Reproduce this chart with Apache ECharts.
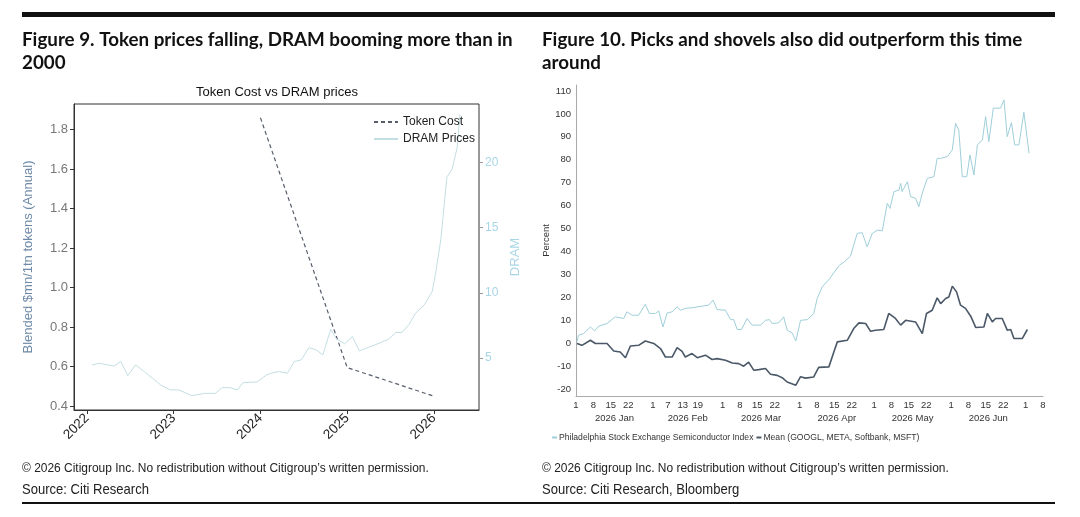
<!DOCTYPE html>
<html>
<head>
<meta charset="utf-8">
<script src="https://cdn.jsdelivr.net/npm/echarts@6/dist/echarts.min.js"></script>
<style>
html,body{margin:0;padding:0;background:#fff;}
#chart{width:1080px;height:517px;}
</style>
</head>
<body>
<div id="chart"></div>
<script>
// ---------- Figure 9 data ----------
const yearTicks = [2022, 2023, 2024, 2025, 2026];
const tokenYears = [2024.0, 2025.0, 2026.0];
const tokenValues = [1.86, 0.595, 0.45];
const dramYears = [2022.06,2022.14,2022.31,2022.39,2022.47,2022.56,2022.66,2022.75,2022.85,2022.96,
  2023.06,2023.21,2023.36,2023.48,2023.56,2023.65,2023.73,2023.80,2023.96,
  2024.07,2024.14,2024.22,2024.31,2024.39,2024.47,2024.56,2024.64,2024.72,2024.81,2024.87,2024.97,
  2025.06,2025.14,2025.25,2025.37,2025.48,2025.56,2025.63,2025.71,2025.79,2025.89,2025.98,
  2026.02,2026.08,2026.15,2026.21,2026.27,2026.30];
const dramValues = [4.46,4.59,4.38,4.72,3.64,4.46,3.95,3.46,2.92,2.54,
  2.54,2.10,2.28,2.28,2.72,2.72,2.54,3.10,3.15,
  3.69,3.85,3.95,3.82,4.72,4.85,5.79,5.62,5.23,7.20,6.51,6.08,
  6.64,5.54,5.82,6.13,6.44,6.95,6.95,7.54,8.44,9.08,10.1,
  11.5,14.1,18.9,19.5,21.2,23.7];
const leftTicks = [0.4, 0.6, 0.8, 1.0, 1.2, 1.4, 1.6, 1.8];
const dramTicks = [5, 10, 15, 20];

// ---------- Figure 10 data (x = days since 1 Jan 2026) ----------
const dayTicks = [0,7,14,21, 31,37,43,49, 59,66,73,80, 90,97,104,111, 120,127,134,141, 151,158,165,172, 181,188];
const dayTickLabels = ['1','8','15','22','1','7','13','19','1','8','15','22','1','8','15','22','1','8','15','22','1','8','15','22','1','8'];
const monthMids = [15.5, 45, 74.5, 105, 135.5, 166];
const monthLabels = ['2026 Jan','2026 Feb','2026 Mar','2026 Apr','2026 May','2026 Jun'];
const pctTicks = [-20,-10,0,10,20,30,40,50,60,70,80,90,100,110];
const soxDays = [0.4,1,3,5.8,7.5,9.1,12.5,15.8,19.2,20.5,22.6,25.2,27.9,29.5,32,33.3,35,36.7,38.7,40.7,42,44,47.4,50.8,53.4,55.2,56.8,60.2,62.2,63.5,64.9,66.6,68.9,70.9,74.3,76.3,77.9,79,81.6,83.6,85,87,88.5,90.4,93.1,95.7,97.1,99.1,102,104,106,108,110.5,113.2,115.2,117.2,119.3,121.3,123.3,125.3,126.4,128,130,130.7,131.3,133.4,134.7,136.7,138,139.4,141.4,144.1,145.4,146.8,149.5,151.5,152.8,154.1,155.5,157.3,158.6,160.2,161.6,163.6,164.9,166.2,168,170.9,172.3,173.6,175.3,176.6,178.3,180.3,182.4];
const soxValues = [0.6,3.5,4.2,7.1,5.4,7.4,8.6,11.5,10.8,13.7,12.2,12.2,17,13,13,14.1,7.1,13.2,13.7,15.9,14.4,15.2,15.6,16.2,16.6,18.8,14.7,14.4,10.3,10.3,6,6,10.8,7.9,7.9,10,10.3,8.6,8.9,11.5,5.7,4.5,1,10,10.3,13,19.5,24.6,28,31,34,35.5,38,47.9,48.2,42.1,47.9,49.3,49,61,58.8,66.1,66.8,69.7,66.1,70.4,63.9,63.2,59.5,65.4,71.9,72.6,80.6,80.6,81.4,84.3,95.9,93,72.6,72.6,82.1,73.4,86.5,88.6,98.8,87.9,102.5,102.5,106.1,90.1,96.2,86.5,86.5,100.7,82.8];
const meanDays = [0.4,2.4,5.8,7.8,12.5,15.2,17.8,19.9,21.9,25.2,27.9,31.3,34,36,38.7,40.7,42.7,44,46.7,48.8,52.1,54.8,56.8,60.2,62.9,65.5,67.5,69.5,71.6,73.6,76.3,78.3,81,83,85,88.5,90.4,92.4,95.7,97.7,101.8,103.8,105.2,109.2,111.8,113.9,116.6,118.6,120.6,123.9,125.9,128.6,130.7,132.7,136.7,139.4,141.1,143.4,145.4,146.8,148.8,150.1,151.5,153.2,154.8,156.8,158.9,160.9,164.2,165.6,167.6,168.9,171.6,173.6,175,176.3,179.7,181.7];
const meanValues = [-0.1,-0.9,1.3,-0.1,-0.1,-3.4,-3.8,-6.3,-1.2,-0.9,1.0,-0.1,-2.3,-6.0,-6.0,-1.9,-3.5,-6,-4.5,-6.3,-5.2,-7.1,-6.7,-7.4,-8.6,-8.9,-10,-8.2,-11.8,-11.5,-11,-13.5,-14,-15,-16.9,-18.3,-14.6,-15.2,-14.7,-10.5,-10.3,-3.8,0.6,1.3,6.4,8.9,8.6,5.2,5.7,6.0,13,10.8,7.9,10,9.3,4.2,13,14.4,19.8,17.3,19.5,20.2,24.9,22.4,16.6,15.2,11.8,6.9,7.1,13,9.3,10.8,10.8,5.7,6,2.1,2.1,6];

const zip = (a, b) => a.map((v, i) => [v, b[i]]);

const chart = echarts.init(document.getElementById('chart'), null, {renderer: 'canvas'});
const headFont = 'Lato, "Noto Sans", sans-serif';
const footFont = '"Liberation Sans", Arial, sans-serif';
const plotFont = '"Liberation Sans", Arial, sans-serif';

function headText(x, y, txt) {
  return {type: 'text', x: x, y: y, style: {text: txt, font: 'bold 18.8px ' + headFont, fill: '#111', verticalAlign: 'middle'}};
}
function footText(x, y, txt, size) {
  return {type: 'text', x: x, y: y, scaleX: 0.92, style: {text: txt, font: size + 'px ' + footFont, fill: '#222', verticalAlign: 'middle'}};
}

const option = {
  animation: false,
  backgroundColor: '#ffffff',
  textStyle: {fontFamily: plotFont},
  graphic: [
    {type: 'rect', shape: {x: 22, y: 12, width: 1033, height: 5}, style: {fill: '#111'}},
    {type: 'rect', shape: {x: 22, y: 502, width: 1033, height: 2}, style: {fill: '#111'}},
    headText(22, 40, 'Figure 9. Token prices falling, DRAM booming more than in'),
    headText(22, 63, '2000'),
    headText(542, 40, 'Figure 10. Picks and shovels also did outperform this time'),
    headText(542, 63, 'around'),
    footText(22, 468, '\u00a9 2026 Citigroup Inc. No redistribution without Citigroup\u2019s written permission.', 13),
    footText(22, 490, 'Source: Citi Research', 14.2),
    footText(542, 468, '\u00a9 2026 Citigroup Inc. No redistribution without Citigroup\u2019s written permission.', 13),
    footText(542, 490, 'Source: Citi Research, Bloomberg', 14.2),
    {type: 'text', x: 277, y: 92, style: {text: 'Token Cost vs DRAM prices', font: '13px ' + plotFont, fill: '#111', align: 'center', verticalAlign: 'middle'}}
  ],
  legend: [
    {
      left: 368, top: 111, orient: 'vertical', itemWidth: 24, itemHeight: 10, itemGap: 5,
      itemStyle: {opacity: 0},
      textStyle: {fontSize: 12, color: '#222', fontFamily: plotFont},
      data: ['Token Cost', 'DRAM Prices']
    },
    {
      left: 546, top: 428, orient: 'horizontal', itemWidth: 5, itemHeight: 8, itemGap: 2,
      itemStyle: {opacity: 0},
      textStyle: {fontSize: 8.6, color: '#333', fontFamily: plotFont, padding: [0, 0, 0, -3]},
      data: ['Philadelphia Stock Exchange Semiconductor Index', 'Mean (GOOGL, META, Softbank, MSFT)']
    }
  ],
  grid: [
    {left: 74, top: 104, width: 405, height: 306, show: true, borderColor: '#333', borderWidth: 1, backgroundColor: 'transparent'},
    {left: 576, top: 85, width: 467, height: 311, show: false}
  ],
  xAxis: [
    {
      type: 'value', gridIndex: 0, min: 2021.85, max: 2026.52,
      axisLine: {show: true, onZero: false, lineStyle: {color: '#333'}},
      axisTick: {show: true, length: 4, lineStyle: {color: '#333'}, customValues: yearTicks},
      axisLabel: {rotate: 45, fontSize: 13.5, color: '#222', margin: 6, customValues: yearTicks, formatter: v => String(Math.round(v))},
      splitLine: {show: false}
    },
    {
      type: 'value', gridIndex: 1, min: 0, max: 188,
      axisLine: {show: true, onZero: false, lineStyle: {color: '#aaa'}},
      axisTick: {show: false, customValues: dayTicks},
      axisLabel: {fontSize: 9.5, color: '#333', margin: 4, customValues: dayTicks,
        formatter: v => { const i = dayTicks.indexOf(Math.round(v)); return i >= 0 ? dayTickLabels[i] : ''; }},
      splitLine: {show: false}
    },
    {
      type: 'value', gridIndex: 1, min: 0, max: 188, position: 'bottom', offset: 13,
      axisLine: {show: false, onZero: false}, axisTick: {show: false, customValues: monthMids},
      axisLabel: {fontSize: 9.5, color: '#333', margin: 4, customValues: monthMids,
        formatter: v => { let best = 0; monthMids.forEach((m, i) => { if (Math.abs(m - v) < Math.abs(monthMids[best] - v)) best = i; }); return monthLabels[best]; }},
      splitLine: {show: false}
    }
  ],
  yAxis: [
    {
      type: 'value', gridIndex: 0, min: 0.38, max: 1.93, position: 'left',
      name: 'Blended $mn/1tn tokens (Annual)', nameLocation: 'middle', nameGap: 39, nameRotate: 90,
      nameTextStyle: {color: '#6e8aa8', fontSize: 13},
      axisLine: {show: true, onZero: false, lineStyle: {color: '#333'}},
      axisTick: {show: true, length: 4, lineStyle: {color: '#333'}, customValues: leftTicks},
      axisLabel: {fontSize: 13, color: '#777', margin: 6, customValues: leftTicks, formatter: v => v.toFixed(1)},
      splitLine: {show: false}
    },
    {
      type: 'value', gridIndex: 0, min: 1, max: 24.5, position: 'right',
      name: 'DRAM', nameLocation: 'middle', nameGap: 30, nameRotate: 90,
      nameTextStyle: {color: '#a8d6e6', fontSize: 13},
      axisLine: {show: false},
      axisTick: {show: true, length: 4, lineStyle: {color: '#999'}, customValues: dramTicks},
      axisLabel: {fontSize: 12, color: '#a8d6e6', margin: 6, customValues: dramTicks},
      splitLine: {show: false}
    },
    {
      type: 'value', gridIndex: 1, min: -23, max: 112.6,
      name: 'Percent', nameLocation: 'middle', nameGap: 25, nameRotate: 90,
      nameTextStyle: {color: '#333', fontSize: 9.5},
      axisLine: {show: true, onZero: false, lineStyle: {color: '#aaa'}},
      axisTick: {show: false, customValues: pctTicks},
      axisLabel: {fontSize: 9.5, color: '#333', margin: 5, customValues: pctTicks},
      splitLine: {show: false}
    }
  ],
  series: [
    {
      name: 'Token Cost', type: 'line', xAxisIndex: 0, yAxisIndex: 0, symbol: 'none',
      data: zip(tokenYears, tokenValues),
      lineStyle: {color: '#565e6b', width: 1.2, type: [4, 3]}, itemStyle: {color: '#565e6b'}
    },
    {
      name: 'DRAM Prices', type: 'line', xAxisIndex: 0, yAxisIndex: 1, symbol: 'none',
      data: zip(dramYears, dramValues),
      lineStyle: {color: '#c3dfe3', width: 1}, itemStyle: {color: '#c3dfe3'}
    },
    {
      name: 'Philadelphia Stock Exchange Semiconductor Index', type: 'line', xAxisIndex: 1, yAxisIndex: 2, symbol: 'none',
      data: zip(soxDays, soxValues),
      lineStyle: {color: '#9fcfd9', width: 1}, itemStyle: {color: '#9fcfd9'}
    },
    {
      name: 'Mean (GOOGL, META, Softbank, MSFT)', type: 'line', xAxisIndex: 1, yAxisIndex: 2, symbol: 'none',
      data: zip(meanDays, meanValues),
      lineStyle: {color: '#4a5868', width: 1.6}, itemStyle: {color: '#4a5868'}
    }
  ]
};
chart.setOption(option);
</script>
</body>
</html>
